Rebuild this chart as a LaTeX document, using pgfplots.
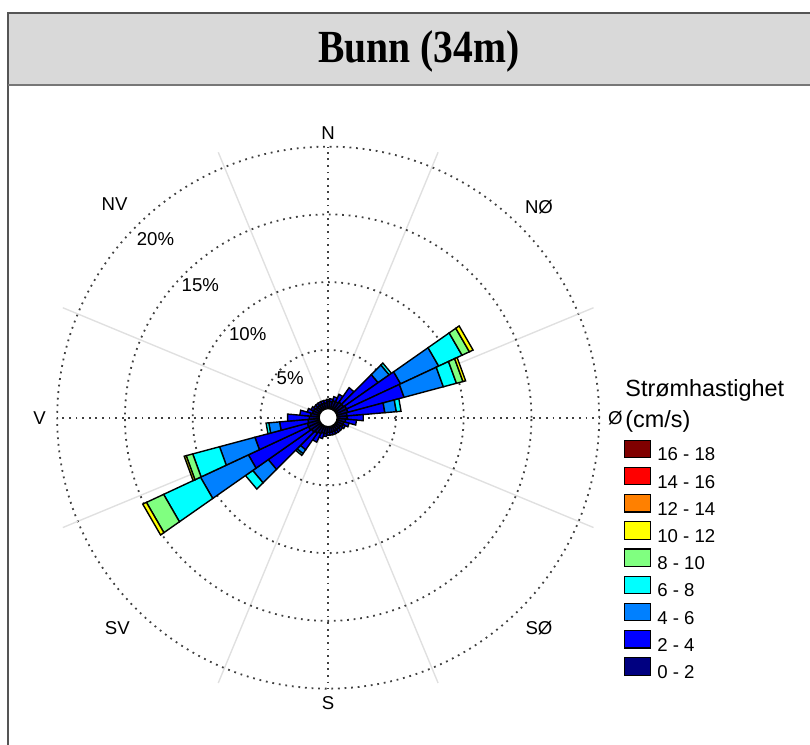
\documentclass[border=0pt]{standalone}
\usepackage{fontspec}
\setmainfont{Liberation Sans}
\newfontfamily\titlefont{Liberation Serif}
\usepackage{graphicx}
\usepackage{pgfplots}
\pgfplotsset{compat=1.18}
\usepgfplotslibrary{polar}

\definecolor{c0}{RGB}{0,0,128}
\definecolor{c2}{RGB}{0,0,255}
\definecolor{c4}{RGB}{0,128,255}
\definecolor{c6}{RGB}{0,255,255}
\definecolor{c8}{RGB}{128,255,128}
\definecolor{c10}{RGB}{255,255,0}
\definecolor{c12}{RGB}{255,128,0}
\definecolor{c14}{RGB}{255,0,0}
\definecolor{c16}{RGB}{128,0,0}
\definecolor{band}{RGB}{217,217,217}
\definecolor{framec}{RGB}{85,85,85}

% one stacked piece of a petal: direction (deg from north), inner %, outer %, colour
\newcommand\seg[4]{%
  \ifdim #3pt>#2pt\relax
    \pgfmathsetmacro\aL{90-#1-5}%
    \pgfmathsetmacro\aR{90-#1+5}%
    \edef\tmp{\noexpand\addplot[forget plot,draw=black,line width=0.7pt,fill=#4]
      coordinates {(\aL,#2) (\aR,#2) (\aR,#3) (\aL,#3)} -- cycle;}%
    \tmp
  \fi}
% direction, then cumulative % at the end of the bins 0-2,2-4,4-6,6-8,8-10,10-12 cm/s
\newcommand\petal[7]{%
  \seg{#1}{0}{#2}{c0}\seg{#1}{#2}{#3}{c2}\seg{#1}{#3}{#4}{c4}%
  \seg{#1}{#4}{#5}{c6}\seg{#1}{#5}{#6}{c8}\seg{#1}{#6}{#7}{c10}}

\begin{document}
\begin{tikzpicture}[x=0.5pt,y=0.5pt]
\useasboundingbox (0,0) rectangle (810,745);
\clip (0,0) rectangle (810,745);

% header band
\fill[band] (8,732) rectangle (830,660);
\draw[framec,line width=1pt] (8,-15) -- (8,732) -- (830,732);
\draw[framec!80,line width=1pt] (8,660) -- (830,660);
\node[font=\titlefont\bfseries\fontsize{23}{26}\selectfont] at (419,694)
  {\scalebox{0.86}[1]{Bunn (34m)}};

\begin{polaraxis}[
  at={(242.2,241.6)}, anchor=center,
  scale only axis, width=271pt, height=271pt,
  xmin=0, xmax=360, ymin=0, ymax=20,
  xtick={0,90,180,270},
  minor xtick={22.5,67.5,112.5,157.5,202.5,247.5,292.5,337.5},
  ytick={5,10,15,20},
  xticklabels={}, yticklabels={},
  grid=both,
  major grid style={black!75, line width=0.9pt, dash pattern=on 0.9pt off 2.4pt},
  minor grid style={black!12, line width=0.7pt},
  axis line style={draw=none},
  tick style={draw=none},
  clip=false,
  font=\fontsize{9.3}{11}\selectfont,
  legend cell align=left,
  legend image code/.code={\draw[#1,line width=0.6pt] (0pt,-0.9pt) rectangle (13pt,7.8pt);},
  legend style={at={(axis description cs:1.0461,0.4594)}, anchor=north west,
    draw=none, fill=none, inner sep=0pt, outer sep=0pt,
    row sep=1.0pt, column sep=3pt,
    font=\fontsize{9.3}{11}\selectfont,
    nodes={inner sep=0pt, text height=7pt, text depth=2pt}},
]
\petal{0}{1.2}{1.35}{1.35}{1.35}{1.35}{1.35}
\petal{10}{1.2}{1.4}{1.4}{1.4}{1.4}{1.4}
\petal{20}{1.3}{1.6}{1.6}{1.6}{1.6}{1.6}
\petal{30}{1.3}{1.9}{1.9}{1.9}{1.9}{1.9}
\petal{40}{1.4}{2.7}{2.7}{2.7}{2.7}{2.7}
\petal{50}{1.4}{4.5}{5.5}{5.7}{5.7}{5.7}
\petal{60}{1.5}{5.9}{9.0}{10.9}{11.5}{11.8}
\petal{70}{1.5}{5.8}{8.8}{9.8}{10.3}{10.5}
\petal{80}{1.4}{4.2}{5.05}{5.4}{5.4}{5.4}
\petal{90}{1.4}{2.6}{2.6}{2.6}{2.6}{2.6}
\petal{100}{1.3}{2.1}{2.1}{2.1}{2.1}{2.1}
\petal{110}{1.2}{1.6}{1.6}{1.6}{1.6}{1.6}
\petal{120}{1.2}{1.4}{1.4}{1.4}{1.4}{1.4}
\petal{130}{1.1}{1.3}{1.3}{1.3}{1.3}{1.3}
\petal{140}{1.1}{1.3}{1.3}{1.3}{1.3}{1.3}
\petal{150}{1.1}{1.3}{1.3}{1.3}{1.3}{1.3}
\petal{160}{1.1}{1.3}{1.3}{1.3}{1.3}{1.3}
\petal{170}{1.1}{1.3}{1.3}{1.3}{1.3}{1.3}
\petal{180}{1.1}{1.3}{1.3}{1.3}{1.3}{1.3}
\petal{190}{1.2}{1.4}{1.4}{1.4}{1.4}{1.4}
\petal{200}{1.2}{1.6}{1.6}{1.6}{1.6}{1.6}
\petal{210}{1.3}{2.0}{2.0}{2.0}{2.0}{2.0}
\petal{220}{1.4}{2.9}{3.25}{3.4}{3.4}{3.4}
\petal{230}{1.5}{5.4}{6.8}{7.45}{7.45}{7.45}
\petal{240}{1.6}{6.5}{10.4}{13.4}{14.8}{15.1}
\petal{250}{1.6}{5.6}{8.3}{10.35}{10.85}{11.0}
\petal{260}{1.5}{3.6}{4.4}{4.6}{4.6}{4.6}
\petal{270}{1.4}{3.0}{3.0}{3.0}{3.0}{3.0}
\petal{280}{1.3}{2.1}{2.1}{2.1}{2.1}{2.1}
\petal{290}{1.2}{1.6}{1.6}{1.6}{1.6}{1.6}
\petal{300}{1.2}{1.4}{1.4}{1.4}{1.4}{1.4}
\petal{310}{1.1}{1.3}{1.3}{1.3}{1.3}{1.3}
\petal{320}{1.1}{1.3}{1.3}{1.3}{1.3}{1.3}
\petal{330}{1.1}{1.3}{1.3}{1.3}{1.3}{1.3}
\petal{340}{1.1}{1.3}{1.3}{1.3}{1.3}{1.3}
\petal{350}{1.1}{1.3}{1.3}{1.3}{1.3}{1.3}

\addlegendimage{fill=c16,draw=black}\addlegendentry{16 - 18}
\addlegendimage{fill=c14,draw=black}\addlegendentry{14 - 16}
\addlegendimage{fill=c12,draw=black}\addlegendentry{12 - 14}
\addlegendimage{fill=c10,draw=black}\addlegendentry{10 - 12}
\addlegendimage{fill=c8,draw=black}\addlegendentry{8 - 10}
\addlegendimage{fill=c6,draw=black}\addlegendentry{6 - 8}
\addlegendimage{fill=c4,draw=black}\addlegendentry{4 - 6}
\addlegendimage{fill=c2,draw=black}\addlegendentry{2 - 4}
\addlegendimage{fill=c0,draw=black}\addlegendentry{0 - 2}

% centre hole
\filldraw[fill=white,draw=black,line width=0.6pt] (axis cs:0,0) circle[radius=4.5pt];

% grey spokes run a little past the outer ring
\pgfplotsinvokeforeach{22.5,67.5,112.5,157.5,202.5,247.5,292.5,337.5}{
  \draw[black!12,line width=0.7pt] (axis cs:#1,20) -- (axis cs:#1,21.2);}

% compass labels
\node at (axis cs:90,21.0) {N};
\node at (axis cs:45,22.0) {NØ};
\node at (axis cs:0,21.2) {Ø};
\node at (axis cs:-45,22.0) {SØ};
\node at (axis cs:-90,21.1) {S};
\node at (axis cs:-135,22.0) {SV};
\node at (axis cs:180,21.3) {V};
\node at (axis cs:135,22.3) {NV};

% ring labels
\node at (axis cs:134,4.04) {5\%};
\node at (axis cs:134,8.55) {10\%};
\node at (axis cs:134,13.58) {15\%};
\node at (axis cs:134,18.35) {20\%};
\end{polaraxis}

\node[anchor=west,inner sep=0pt,font=\fontsize{11.7}{14}\selectfont] at (625,355) {Strømhastighet};
\node[anchor=west,inner sep=0pt,font=\fontsize{11.7}{14}\selectfont] at (625,324) {(cm/s)};
\end{tikzpicture}
\end{document}
